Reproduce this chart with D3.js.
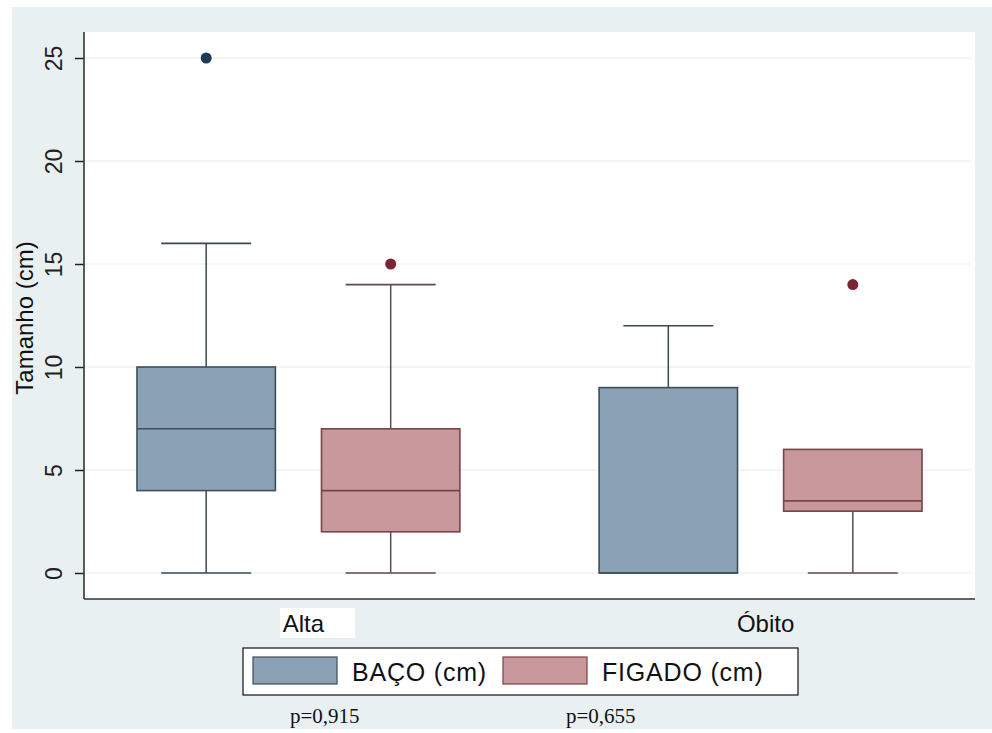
<!DOCTYPE html>
<html><head><meta charset="utf-8">
<script src="https://cdn.jsdelivr.net/npm/d3@7"></script>
<style>html,body{margin:0;padding:0;background:#fff;}svg{display:block;}</style>
</head><body>
<svg id="chart" width="992" height="733"></svg>
<script>
const categories = ["Alta", "Óbito"];
const seriesNames = ["BAÇO (cm)", "FIGADO (cm)"];
// box stats per category: [lowerWhisker, q1, median, q3, upperWhisker]
const bacoStats = [[0, 4, 7, 10, 16], [0, 0, 0, 9, 12]];
const figadoStats = [[0, 2, 4, 7, 14], [0, 3, 3.5, 6, 6]];
const bacoOutliers = [[25], []];
const figadoOutliers = [[15], [14]];
const yTicks = [0, 5, 10, 15, 20, 25];
const pValues = ["p=0,915", "p=0,655"];

const colors = {
  fill: ["#8ba2b6", "#c9989c"],
  stroke: ["#3d4e5c", "#7a4249"],
  whisker: ["#3b4852", "#5e4a4e"],
  outlier: ["#1e3a55", "#7a2632"]
};

const FONT = "Liberation Sans, Arial, sans-serif";
const svg = d3.select("#chart");
const W = 992, H = 733;
const plot = {left: 84, right: 975, top: 32, bottom: 599};

// outer background
svg.append("rect").attr("x", 12).attr("y", 7).attr("width", W - 12).attr("height", H - 7 - 4).attr("fill", "#e9f0f2");
// plot region
svg.append("rect").attr("x", plot.left).attr("y", plot.top).attr("width", plot.right - plot.left).attr("height", plot.bottom - plot.top).attr("fill", "#ffffff");

const y = d3.scaleLinear().domain([0, 25]).range([573, 58]);
const x = d3.scalePoint().domain(categories).range([plot.left, plot.right]).padding(0.464);
const xs = d3.scaleBand().domain(seriesNames).range([-184.5, 184.5]).padding(0);
const boxW = xs.bandwidth() * 0.75;
const capHalf = 45;

// grid
svg.append("g").selectAll("line").data(yTicks).join("line")
  .attr("x1", plot.left).attr("x2", plot.right - 4)
  .attr("y1", d => y(d)).attr("y2", d => y(d))
  .attr("stroke", "#e6eaec").attr("stroke-width", 1.2);

// y axis
const yAxis = d3.axisLeft(y).tickValues(yTicks).tickSize(9).tickPadding(8);
const gy = svg.append("g").attr("transform", `translate(${plot.left},0)`).call(yAxis);
gy.select(".domain").remove();
gy.selectAll(".tick line").attr("stroke", "#222").attr("stroke-width", 1.5);
gy.selectAll(".tick text").attr("font-family", FONT).attr("font-size", 23).attr("fill", "#222")
  .attr("text-anchor", "middle").attr("transform", "translate(-22,0) rotate(-90)").attr("x", 0).attr("dy", 0);
svg.append("line").attr("x1", plot.left).attr("x2", plot.left).attr("y1", plot.top).attr("y2", plot.bottom).attr("stroke", "#333").attr("stroke-width", 1.6);
svg.append("line").attr("x1", plot.left).attr("x2", plot.right).attr("y1", plot.bottom).attr("y2", plot.bottom).attr("stroke", "#333").attr("stroke-width", 1.6);

// y label
svg.append("text").attr("transform", "translate(33,318) rotate(-90)").attr("text-anchor", "middle")
  .attr("font-family", FONT).attr("font-size", 24).attr("fill", "#111").text("Tamanho (cm)");

// boxes
const allStats = [bacoStats, figadoStats];
const allOut = [bacoOutliers, figadoOutliers];
seriesNames.forEach((s, si) => {
  categories.forEach((c, ci) => {
    const [lo, q1, med, q3, hi] = allStats[si][ci];
    const cx = x(c) + xs(s) + xs.bandwidth() / 2;
    const g = svg.append("g");
    if (hi > q3) {
      g.append("line").attr("x1", cx).attr("x2", cx).attr("y1", y(q3)).attr("y2", y(hi)).attr("stroke", colors.whisker[si]).attr("stroke-width", 1.5);
      g.append("line").attr("x1", cx - capHalf).attr("x2", cx + capHalf).attr("y1", y(hi)).attr("y2", y(hi)).attr("stroke", colors.whisker[si]).attr("stroke-width", 1.6);
    }
    if (lo < q1) {
      g.append("line").attr("x1", cx).attr("x2", cx).attr("y1", y(q1)).attr("y2", y(lo)).attr("stroke", colors.whisker[si]).attr("stroke-width", 1.5);
      g.append("line").attr("x1", cx - capHalf).attr("x2", cx + capHalf).attr("y1", y(lo)).attr("y2", y(lo)).attr("stroke", colors.whisker[si]).attr("stroke-width", 1.6);
    }
    g.append("rect").attr("x", cx - boxW / 2).attr("y", y(q3)).attr("width", boxW).attr("height", y(q1) - y(q3))
      .attr("fill", colors.fill[si]).attr("stroke", colors.stroke[si]).attr("stroke-width", 1.6);
    g.append("line").attr("x1", cx - boxW / 2).attr("x2", cx + boxW / 2).attr("y1", y(med)).attr("y2", y(med)).attr("stroke", colors.stroke[si]).attr("stroke-width", 1.6);
    g.selectAll("circle").data(allOut[si][ci]).join("circle")
      .attr("cx", cx).attr("cy", d => y(d)).attr("r", 5.5).attr("fill", colors.outlier[si]);
  });
});

// category labels
svg.append("rect").attr("x", 280).attr("y", 608).attr("width", 75).attr("height", 30).attr("fill", "#ffffff");
svg.append("g").selectAll("text").data(categories).join("text")
  .attr("x", d => x(d) + 5).attr("y", 632).attr("text-anchor", "middle")
  .attr("font-family", FONT).attr("font-size", 24).attr("fill", "#111").text(d => d);

// legend
const lg = svg.append("g");
lg.append("rect").attr("x", 243).attr("y", 648).attr("width", 555).attr("height", 47).attr("fill", "#fff").attr("stroke", "#111").attr("stroke-width", 1.2);
const legX = [253, 503];
seriesNames.forEach((s, i) => {
  lg.append("rect").attr("x", legX[i]).attr("y", 657).attr("width", 84).attr("height", 27).attr("fill", colors.fill[i]).attr("stroke", colors.stroke[i]).attr("stroke-width", 1.2);
  lg.append("text").attr("x", legX[i] + 99).attr("y", 681).attr("font-family", FONT).attr("font-size", 25)
    .attr("letter-spacing", 0.8).attr("fill", "#111").text(s);
});

// p-values
const pX = [290, 566];
svg.append("g").selectAll("text").data(pValues).join("text")
  .attr("x", (d, i) => pX[i]).attr("y", 723)
  .attr("font-family", "Liberation Serif, Times New Roman, serif").attr("font-size", 21).attr("fill", "#111").text(d => d);
</script>
</body></html>
